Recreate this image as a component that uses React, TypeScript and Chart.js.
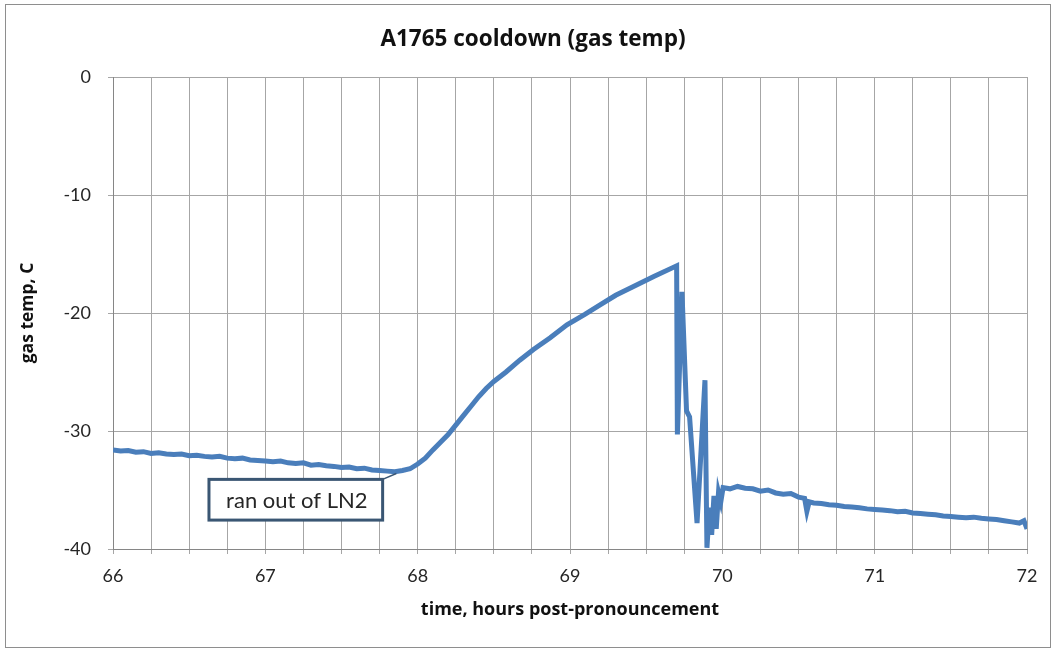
import React, { useEffect, useRef } from "react";
import { Chart, registerables } from "chart.js";

Chart.register(...registerables);

const timeHours = [
  66.0, 66.05, 66.1, 66.15, 66.2, 66.25, 66.3, 66.35, 66.4, 66.45, 66.5, 66.55, 66.6, 66.65, 66.7, 66.75,
  66.8, 66.85, 66.9, 66.95, 67.0, 67.05, 67.1, 67.15, 67.2, 67.25, 67.3, 67.35, 67.4, 67.45, 67.5, 67.55,
  67.6, 67.65, 67.7, 67.75, 67.8, 67.85, 67.9, 67.95,
  68.0, 68.05, 68.1, 68.15, 68.2, 68.25, 68.3, 68.35, 68.4, 68.45, 68.5, 68.58, 68.67, 68.76, 68.87, 68.98,
  69.1, 69.2, 69.3, 69.41, 69.55, 69.7,
  69.705, 69.735, 69.765, 69.785, 69.834, 69.886, 69.899, 69.915, 69.93, 69.945, 69.96, 69.975, 69.99, 70.005,
  70.05, 70.1, 70.15, 70.2, 70.25, 70.3, 70.35, 70.4, 70.45, 70.5, 70.54, 70.555, 70.57, 70.6, 70.65, 70.7,
  70.75, 70.8, 70.85, 70.9, 70.95, 71.0, 71.05, 71.1, 71.15, 71.2, 71.25, 71.3, 71.35, 71.4, 71.45, 71.5,
  71.55, 71.6, 71.65, 71.7, 71.75, 71.8, 71.85, 71.9, 71.95, 71.98, 72.0,
];

const gasTempC = [
  -31.6, -31.7, -31.65, -31.8, -31.75, -31.9, -31.85, -31.95, -32.0, -31.95, -32.1, -32.05, -32.15, -32.2, -32.15, -32.3,
  -32.35, -32.3, -32.45, -32.5, -32.55, -32.6, -32.55, -32.7, -32.75, -32.7, -32.9, -32.85, -32.95, -33.0, -33.1, -33.05,
  -33.2, -33.15, -33.3, -33.35, -33.4, -33.45, -33.35, -33.2,
  -32.8, -32.3, -31.6, -30.95, -30.3, -29.5, -28.7, -27.9, -27.1, -26.4, -25.8, -25.0, -24.0, -23.1, -22.1, -21.0,
  -20.1, -19.3, -18.5, -17.8, -16.9, -16.0,
  -30.3, -18.2, -28.3, -28.8, -37.8, -25.7, -39.9, -36.5, -38.8, -35.5, -38.3, -35.2, -36.0, -34.8,
  -34.9, -34.7, -34.85, -34.9, -35.1, -35.0, -35.25, -35.35, -35.3, -35.6, -35.7, -36.8, -36.0, -36.1, -36.15, -36.25,
  -36.3, -36.4, -36.45, -36.5, -36.6, -36.65, -36.7, -36.75, -36.85, -36.8, -36.95, -37.0, -37.05, -37.1, -37.2, -37.25,
  -37.3, -37.35, -37.3, -37.4, -37.45, -37.5, -37.6, -37.7, -37.8, -37.6, -38.3,
];

const yTicks = [0, -10, -20, -30, -40];
const xTickLabels = ["66", "67", "68", "69", "70", "71", "72"];

const titleText = "A1765 cooldown (gas temp)";
const xTitle = "time, hours post-pronouncement";
const yTitle = "gas temp, C";
const noteText = "ran out of LN2";
// note box in data units: [x1, x2], [yTop, yBottom]; leader line end point
const noteBoxX = [66.63, 67.77];
const noteBoxY = [-34.1, -37.55];
const noteLeader = [67.86, -33.6];

const FONT = 'Lato, "Open Sans", sans-serif';
const BOLD_FONT = '"Open Sans", Lato, sans-serif';

const notePlugin = {
  id: "noteBox",
  afterDatasetsDraw(chart: any) {
    const { ctx, scales } = chart;
    const xs = scales.x;
    const ys = scales.y;
    const x1 = xs.getPixelForValue(noteBoxX[0]);
    const x2 = xs.getPixelForValue(noteBoxX[1]);
    const y1 = ys.getPixelForValue(noteBoxY[0]);
    const y2 = ys.getPixelForValue(noteBoxY[1]);
    const lx = xs.getPixelForValue(noteLeader[0]);
    const ly = ys.getPixelForValue(noteLeader[1]);
    ctx.save();
    ctx.strokeStyle = "#3a5673";
    ctx.lineWidth = 1.5;
    ctx.beginPath();
    ctx.moveTo(x2, y1);
    ctx.lineTo(lx, ly);
    ctx.stroke();
    ctx.fillStyle = "#ffffff";
    ctx.fillRect(x1, y1, x2 - x1, y2 - y1);
    ctx.lineWidth = 3;
    ctx.strokeRect(x1, y1, x2 - x1, y2 - y1);
    ctx.fillStyle = "#262626";
    ctx.font = `22px ${FONT}`;
    ctx.textAlign = "center";
    ctx.textBaseline = "middle";
    ctx.fillText(noteText, (x1 + x2) / 2 + 1, (y1 + y2) / 2 + 1);
    ctx.restore();
  },
};

export default function App() {
  const ref = useRef<HTMLCanvasElement>(null);
  useEffect(() => {
    if (!ref.current) return;
    const data = timeHours.map((t, i) => ({ x: t, y: gasTempC[i] }));
    const chart = new Chart(ref.current, {
      type: "line",
      data: {
        datasets: [
          {
            data,
            borderColor: "#4a7ebb",
            borderWidth: 5,
            pointRadius: 0,
            tension: 0,
            fill: false,
          },
        ],
      },
      options: {
        animation: false,
        responsive: false,
        parsing: false as any,
        layout: { padding: { left: 10, right: 0, top: 0, bottom: 0 } },
        plugins: {
          legend: { display: false },
          tooltip: { enabled: false },
          title: {
            display: true,
            text: titleText,
            color: "#111111",
            font: { family: BOLD_FONT, size: 22.5, weight: "bold", lineHeight: 1.2 },
            padding: { top: 21.5, bottom: 23.5 },
          },
        },
        scales: {
          x: {
            type: "linear",
            min: 66,
            max: 72,
            afterFit: (s: any) => {
              s.height = 98;
            },
            ticks: {
              stepSize: 0.25,
              autoSkip: false,
              maxRotation: 0,
              padding: 11,
              color: "#262626",
              font: { family: FONT, size: 18 },
              callback: (v: any) => {
                const n = Number(v);
                if (Math.abs(n - Math.round(n)) < 1e-6) {
                  const lbl = String(Math.round(n));
                  return xTickLabels.includes(lbl) ? lbl : "";
                }
                return "";
              },
            },
            grid: { color: "#a6a6a6", lineWidth: 1, tickLength: 5 },
            border: { color: "#868686", width: 1 },
            title: {
              display: true,
              text: xTitle,
              color: "#111111",
              font: { family: BOLD_FONT, size: 18, weight: "bold", lineHeight: 1.2 },
              padding: { top: 0, bottom: 26 },
            },
          },
          y: {
            type: "linear",
            min: -40,
            max: 0,
            afterFit: (s: any) => {
              s.width = 97;
            },
            afterBuildTicks: (s: any) => {
              s.ticks = yTicks.map((v) => ({ value: v }));
            },
            ticks: {
              padding: 17,
              color: "#262626",
              font: { family: FONT, size: 18 },
              callback: (v: any) => String(v),
            },
            grid: { color: "#a6a6a6", lineWidth: 1, tickLength: 5 },
            border: { color: "#868686", width: 1 },
            title: {
              display: true,
              text: yTitle,
              color: "#111111",
              font: { family: BOLD_FONT, size: 17.5, weight: "bold", lineHeight: 1.2 },
              padding: { top: 1.5, bottom: 0 },
            },
          },
          yRight: {
            type: "linear",
            position: "right",
            display: true,
            afterFit: (s: any) => {
              s.width = 23;
            },
            ticks: { display: false },
            grid: { display: false, drawTicks: false },
            border: { display: false },
          },
        },
      },
      plugins: [notePlugin],
    });
    return () => chart.destroy();
  }, []);

  return (
    <div
      style={{
        position: "absolute",
        left: 5,
        top: 4,
        width: 1044,
        height: 642,
        border: "1px solid #8e8e8e",
        background: "#ffffff",
      }}
    >
      <canvas ref={ref} width={1044} height={642} style={{ display: "block", width: 1044, height: 642 }} />
    </div>
  );
}
